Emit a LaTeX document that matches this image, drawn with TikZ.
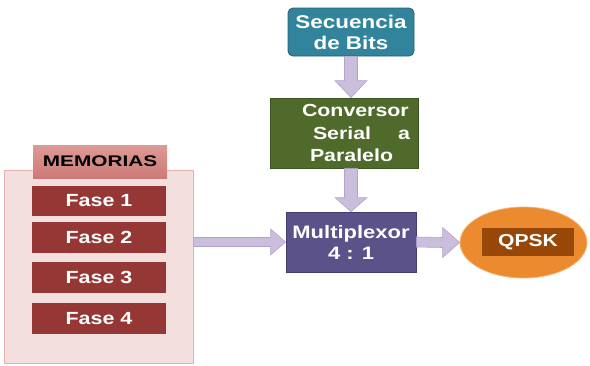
\documentclass[tikz,border=0pt]{standalone}
\usepackage{fontspec}
\setmainfont{Liberation Sans}
\newfontfamily\wf{Liberation Sans}[FakeStretch=1.22]
\newfontfamily\wfm{Liberation Sans}[FakeStretch=1.35]
\usetikzlibrary{calc,shapes.geometric}
\definecolor{tealf}{HTML}{31849B}
\definecolor{teald}{HTML}{205F70}
\definecolor{greenf}{HTML}{4F6A2A}
\definecolor{greend}{HTML}{3C5420}
\definecolor{purf}{HTML}{5B5289}
\definecolor{purd}{HTML}{433C6C}
\definecolor{arrf}{HTML}{CBBEDD}
\definecolor{arrd}{HTML}{B3A2CB}
\definecolor{orf}{HTML}{EC8A30}
\definecolor{ord}{HTML}{F5B572}
\definecolor{qpf}{HTML}{974808}
\definecolor{fasef}{HTML}{953735}
\definecolor{memf}{HTML}{F4DFDF}
\definecolor{memd}{HTML}{E8B0AF}
\definecolor{tabt}{HTML}{DE9A97}
\definecolor{tabb}{HTML}{CD7A77}
\begin{document}
\begin{tikzpicture}[x=1pt,y=-1pt,
  box/.style={draw, line width=0.8pt, inner sep=0pt, text=white, font=\wf\bfseries},
  fasebox/.style={fill=fasef, minimum width=134pt, minimum height=30pt, inner sep=0pt, text=white, font=\wf\bfseries\fontsize{17.6}{20}\selectfont},
  fatarrow/.style={fill=arrf, draw=arrd, line width=0.6pt, line join=miter}]
\useasboundingbox (0,0) rectangle (590,365);
% top box
\node[box, fill=tealf, draw=teald, rounded corners=5pt, minimum width=126pt, minimum height=48pt, align=center,
  font=\wf\bfseries\fontsize{18.4}{21}\selectfont] (seq) at (351,32) {Secuencia\\de Bits};
% converter
\node[box, fill=greenf, draw=greend, minimum width=148pt, minimum height=70pt] (conv) at (344,133) {};
\node[text=white, inner sep=0pt, font=\wf\bfseries\fontsize{17.5}{22.5}\selectfont, anchor=center] (convtxt) at (356,133)
  {\parbox{108pt}{\raggedright Conversor\\\hspace*{11pt}Serial\hfill a\\\hspace*{8pt}Paralelo}};
% multiplexor
\node[box, fill=purf, draw=purd, minimum width=130pt, minimum height=60pt, align=center,
  font=\wf\bfseries\fontsize{18}{21}\selectfont] (mux) at (351,242) {Multiplexor\\4 : 1};
% qpsk
\node[ellipse, fill=orf, draw=ord, line width=0.8pt, minimum width=127pt, minimum height=71pt, inner sep=0pt] (qpsk) at (523.5,242.5) {};
\node[fill=qpf, minimum width=92pt, minimum height=28pt, inner sep=0pt, text=white,
  font=\wf\bfseries\fontsize{17.3}{20}\selectfont] (qpsktxt) at (528,242) {QPSK};
% memories
\node[fill=memf, draw=memd, line width=0.8pt, minimum width=189pt, minimum height=193pt, inner sep=0pt] (mem) at (98.5,266.5) {};
\node[top color=tabt, bottom color=tabb, minimum width=134pt, minimum height=33pt, inner sep=0pt,
  font=\wfm\bfseries\fontsize{15.4}{17}\selectfont] (tab) at (100,161.5) {MEMORIAS};
\node[fasebox] (f1) at (99,200.5) {Fase 1};
\node[fasebox, minimum height=31pt] (f2) at (99,237.5) {Fase 2};
\node[fasebox, minimum height=31pt] (f3) at (99,277.5) {Fase 3};
\node[fasebox, minimum height=31pt] (f4) at (99,318.5) {Fase 4};
% arrows
\path (seq.south) coordinate (s1) (seq.south |- conv.north) coordinate (t1);
\filldraw[fatarrow] ($(s1)+(-6.5,0)$) -- ($(t1)+(-6.5,-17)$) -- ($(t1)+(-16,-17)$) -- (t1)
  -- ($(t1)+(16,-17)$) -- ($(t1)+(6.5,-17)$) -- ($(s1)+(6.5,0)$) -- cycle;
\path (mux.north |- conv.south) coordinate (s2) (mux.north) coordinate (t2);
\filldraw[fatarrow] ($(s2)+(-6.5,0)$) -- ($(t2)+(-6.5,-14)$) -- ($(t2)+(-16,-14)$) -- (t2)
  -- ($(t2)+(16,-14)$) -- ($(t2)+(6.5,-14)$) -- ($(s2)+(6.5,0)$) -- cycle;
\path (mem.east |- mux.west) coordinate (s3) (mux.west) coordinate (t3);
\filldraw[fatarrow] ($(s3)+(0,-4.5)$) -- ($(t3)+(-15,-4.5)$) -- ($(t3)+(-15,-13)$) -- (t3)
  -- ($(t3)+(-15,13)$) -- ($(t3)+(-15,4.5)$) -- ($(s3)+(0,4.5)$) -- cycle;
\path (mux.east) coordinate (s4) (qpsk.west) coordinate (t4);
\filldraw[fatarrow] ($(s4)+(0,-5)$) -- ($(t4)+(-17,-5)$) -- ($(t4)+(-17,-15)$) -- (t4)
  -- ($(t4)+(-17,15)$) -- ($(t4)+(-17,5)$) -- ($(s4)+(0,5)$) -- cycle;
\end{tikzpicture}
\end{document}
